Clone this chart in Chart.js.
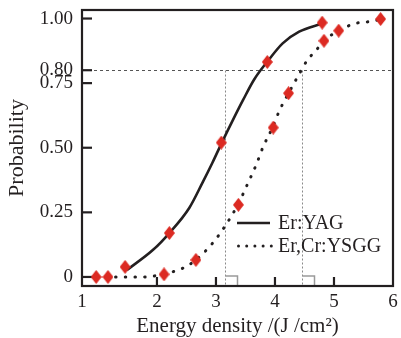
<!DOCTYPE html>
<html><head><meta charset="utf-8">
<script src="https://cdn.jsdelivr.net/npm/chart.js@4/dist/chart.umd.min.js"></script>
<style>html,body{margin:0;padding:0;background:#fff;}#w{width:401px;height:338px;}</style>
</head><body><div id="w"><canvas id="c" width="401" height="338"></canvas></div>
<script>
// ---- data ----
const yagPointX  = [1.46, 2.21, 3.09, 3.87, 4.80];
const yagPointY  = [0.039, 0.170, 0.520, 0.832, 0.984];
const ysggPointX = [0.97, 1.17, 2.12, 2.66, 3.38, 3.97, 4.23, 4.83, 5.08, 5.79];
const ysggPointY = [0.000, 0.000, 0.010, 0.066, 0.279, 0.578, 0.711, 0.914, 0.953, 0.998];
const yagCurveX  = [1.49, 1.93, 2.21, 2.55, 2.77, 2.94, 3.10, 3.28, 3.46, 3.65, 3.87, 4.13, 4.41, 4.80];
const yagCurveY  = [0.027, 0.104, 0.170, 0.268, 0.364, 0.442, 0.520, 0.604, 0.685, 0.765, 0.833, 0.904, 0.949, 0.981];
const ysggCurveX = [0.97, 1.79, 2.12, 2.44, 2.66, 2.94, 3.14, 3.37, 3.54, 3.68, 3.80, 3.96, 4.08, 4.23, 4.40, 4.56, 4.68, 4.83, 5.08, 5.36, 5.67, 5.78];
const ysggCurveY = [0.000, 0.000, 0.012, 0.034, 0.066, 0.130, 0.192, 0.279, 0.362, 0.433, 0.504, 0.579, 0.646, 0.711, 0.781, 0.843, 0.872, 0.914, 0.953, 0.981, 0.990, 0.997];
const seriesNames = ['Er:YAG', 'Er,Cr:YSGG'];
const xTickValues = [0.73, 2, 3, 4, 5, 6];
const xTickLabels = ['1', '2', '3', '4', '5', '6'];
const yTickValues = [0, 0.25, 0.5, 0.75, 0.8, 1.0];
const yTickLabels = ['0', '0.25', '0.50', '0.75', '0.80', '1.00'];
const refLevel = 0.8;
const refX = [3.16, 4.46];
const xTitle = 'Energy density /(J /cm\u00B2)';
const yTitle = 'Probability';

// ---- styling ----
const INK = '#231f20';
const RED = '#dc2a22';
const FONT = '"Liberation Serif", "Times New Roman", serif';

const diamond = document.createElement('canvas');
diamond.width = 11; diamond.height = 14;
(function(){ const g = diamond.getContext('2d'); g.fillStyle = RED; g.beginPath();
  g.moveTo(5.5,0); g.lineTo(11,7); g.lineTo(5.5,14); g.lineTo(0,7); g.closePath(); g.fill(); })();

const zip = (xs, ys) => xs.map((v, i) => ({x: v, y: ys[i]}));

const deco = {
  id: 'deco',
  beforeDatasetsDraw(chart) {
    const {ctx, chartArea: a, scales: {x, y}} = chart;
    ctx.save();
    const yr = Math.round(y.getPixelForValue(refLevel)) + 0.5;
    ctx.lineWidth = 1;
    ctx.strokeStyle = '#555';
    ctx.setLineDash([3, 3]);
    ctx.beginPath(); ctx.moveTo(a.left, yr); ctx.lineTo(a.right, yr); ctx.stroke();
    refX.forEach(v => {
      const px = Math.round(x.getPixelForValue(v)) + 0.5;
      ctx.setLineDash([2, 2]); ctx.strokeStyle = '#8a8a8a'; ctx.lineWidth = 1;
      ctx.beginPath(); ctx.moveTo(px, yr); ctx.lineTo(px, a.bottom); ctx.stroke();
      ctx.setLineDash([]); ctx.strokeStyle = '#9a9a9a'; ctx.lineWidth = 1.5;
      ctx.beginPath(); ctx.moveTo(px, a.bottom - 10); ctx.lineTo(px + 12, a.bottom - 10); ctx.lineTo(px + 12, a.bottom); ctx.stroke();
    });
    ctx.setLineDash([]);
    // inward tick marks
    ctx.strokeStyle = INK; ctx.lineWidth = 2.2;
    yTickValues.forEach(v => { const py = y.getPixelForValue(v);
      ctx.beginPath(); ctx.moveTo(a.left, py); ctx.lineTo(a.left + 10, py); ctx.stroke(); });
    xTickValues.slice(1, -1).forEach(v => { const px = x.getPixelForValue(v);
      ctx.beginPath(); ctx.moveTo(px, a.bottom); ctx.lineTo(px, a.bottom - 9); ctx.stroke(); });
    // frame
    ctx.lineWidth = 2.2;
    ctx.strokeRect(a.left, a.top, a.right - a.left, a.bottom - a.top);
    ctx.restore();
  },
  afterDraw(chart) {
    const {ctx, chartArea: a} = chart;
    ctx.save();
    const x0 = a.right - 156, x1 = a.right - 123, tx = a.right - 115;
    const r1 = a.bottom - 63, r2 = a.bottom - 40;
    ctx.strokeStyle = INK; ctx.lineWidth = 2.5;
    ctx.beginPath(); ctx.moveTo(x0, r1); ctx.lineTo(x1, r1); ctx.stroke();
    ctx.fillStyle = INK;
    for (let i = 0; i < 5; i++) { ctx.beginPath(); ctx.arc(x0 + 1.5 + i * 8.2, r2, 1.5, 0, Math.PI * 2); ctx.fill(); }
    ctx.font = '20px ' + FONT; ctx.textBaseline = 'middle'; ctx.textAlign = 'left';
    ctx.fillText(seriesNames[0], tx, r1 + 1);
    ctx.fillText(seriesNames[1], tx, r2 + 1);
    ctx.restore();
  }
};

new Chart(document.getElementById('c'), {
  type: 'scatter',
  data: {
    datasets: [
      { label: seriesNames[0] + ' fit', data: zip(yagCurveX, yagCurveY), showLine: true,
        borderColor: INK, borderWidth: 2.6, pointRadius: 0, cubicInterpolationMode: 'monotone', order: 3 },
      { label: seriesNames[1] + ' fit', data: zip(ysggCurveX, ysggCurveY), showLine: true,
        borderColor: INK, borderWidth: 3, borderCapStyle: 'round', borderDash: [0.5, 9.2],
        pointRadius: 0, cubicInterpolationMode: 'monotone', order: 4 },
      { label: seriesNames[0], data: zip(yagPointX, yagPointY), showLine: false,
        pointStyle: diamond, pointRadius: 7, order: 1, clip: false },
      { label: seriesNames[1], data: zip(ysggPointX, ysggPointY), showLine: false,
        pointStyle: diamond, pointRadius: 7, order: 2, clip: false }
    ]
  },
  options: {
    responsive: false, animation: false, devicePixelRatio: 1,
    layout: { padding: { left: 0, right: 6, top: 10, bottom: 0 } },
    plugins: { legend: { display: false }, tooltip: { enabled: false } },
    scales: {
      x: {
        type: 'linear', min: xTickValues[0], max: 6,
        afterBuildTicks: s => { s.ticks = xTickValues.map(v => ({value: v})); },
        afterFit: s => { s.height = 52; s.paddingLeft = 0; s.paddingRight = 0; },
        grid: { display: false, drawTicks: false }, border: { display: false },
        ticks: { autoSkip: false, maxRotation: 0, padding: 5, color: INK, font: { family: FONT, size: 19 },
          callback: (v, i) => xTickLabels[i] },
        title: { display: true, text: xTitle, color: INK, font: { family: FONT, size: 21, lineHeight: 1.05 }, padding: { top: 0, bottom: 0 } }
      },
      y: {
        type: 'linear', min: -0.035, max: 1.033,
        afterBuildTicks: s => { s.ticks = yTickValues.map(v => ({value: v})); },
        afterFit: s => { s.width = 82; s.paddingTop = 0; s.paddingBottom = 0; },
        grid: { display: false, drawTicks: false }, border: { display: false },
        ticks: { autoSkip: false, padding: 9, color: INK, font: { family: FONT, size: 19 },
          callback: (v, i) => yTickLabels[i] },
        title: { display: true, text: yTitle, color: INK, font: { family: FONT, size: 22, lineHeight: 1.1 }, padding: { top: 5, bottom: 0 } }
      }
    }
  },
  plugins: [deco]
});
</script>
</body></html>
